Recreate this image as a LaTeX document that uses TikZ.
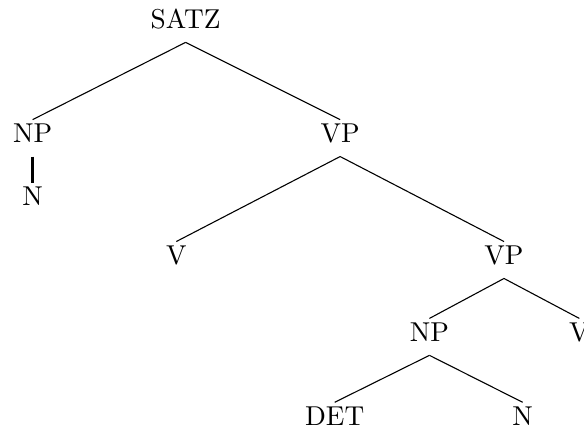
\documentclass[tikz,border=0pt]{standalone}
\usepackage{amsmath}
\usepackage{amssymb}
\usetikzlibrary{positioning}
\tikzset{
CAT/.style={anchor=base, inner sep=1.5pt, text depth=3.3pt}
}

\begin{document}
\begin{tikzpicture}[scale=1.00]
\useasboundingbox (0,0) rectangle (7.52,-5.535);
\node[CAT] (satz) at (2.39,-0.37) {SATZ};
\node[CAT] (np) at (0.42,-1.84) {NP};
\node[CAT] (vp) at (4.38,-1.84) {VP};
\node[CAT] (n) at (0.42,-2.65) {N};
\node[CAT] (v) at (2.27,-3.41) {V};
\node[CAT] (vpb) at (6.49,-3.41) {VP};
\node[CAT] (npb) at (5.53,-4.40) {NP};
\node[CAT] (vb) at (7.46,-4.40) {V};
\node[CAT] (det) at (4.31,-5.48) {DET};
\node[CAT] (nb) at (6.73,-5.48) {N};

\draw (satz.south) -- (np.north);
\draw (satz.south) -- (vp.north);
\draw[very thick] (np.south) -- (n.north);
\draw (vp.south) -- (v.north);
\draw (vp.south) -- (vpb.north);
\draw (vpb.south) -- (npb.north);
\draw (vpb.south) -- (vb.north);
\draw (npb.south) -- (det.north);
\draw (npb.south) -- (nb.north);
\end{tikzpicture}
\end{document}
